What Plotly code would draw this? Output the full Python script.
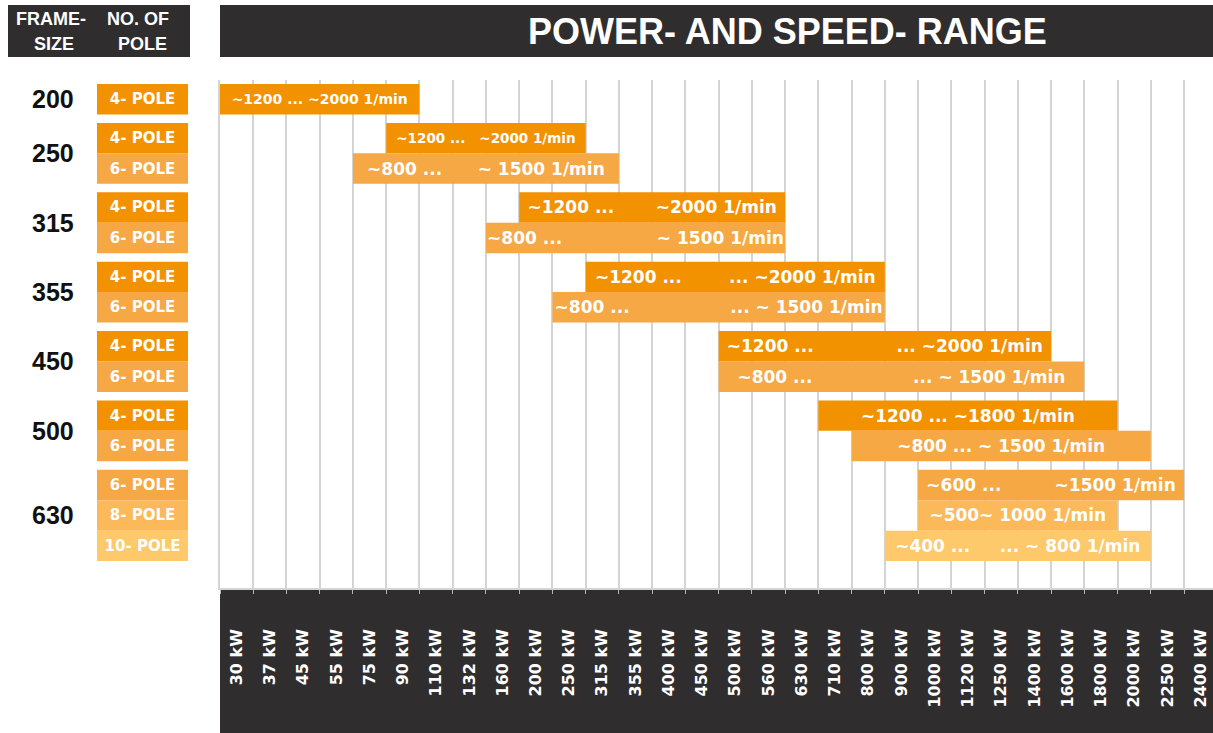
import plotly.graph_objects as go

# ---------------- data ----------------
power_kw = ["30", "37", "45", "55", "75", "90", "110", "132", "160", "200",
            "250", "315", "355", "400", "450", "500", "560", "630", "710", "800",
            "900", "1000", "1120", "1250", "1400", "1600", "1800", "2000", "2250", "2400"]
tick_labels = [p + " kW" for p in power_kw]

frame_sizes = ["200", "250", "250", "315", "315", "355", "355",
               "450", "450", "500", "500", "630", "630", "630"]
pole_numbers = ["4", "4", "6", "4", "6", "4", "6", "4", "6", "4", "6", "6", "8", "10"]
start_kw = ["30", "90", "75", "200", "160", "315", "250", "500", "500", "710", "800", "1000", "1000", "900"]
end_kw = ["90", "250", "315", "560", "560", "800", "800", "1400", "1600", "1800", "2000", "2250", "1800", "2000"]

NB = "\u00a0"
def gap(n):
    return NB * n

speed_text = [
    "~1200 ... ~2000 1/min",
    "~1200 ..." + gap(3) + "~2000 1/min",
    "~800 ..." + gap(6) + "~ 1500 1/min",
    "~1200 ..." + gap(7) + "~2000 1/min",
    "~800 ..." + gap(16) + "~ 1500 1/min",
    "~1200 ..." + gap(8) + "... ~2000 1/min",
    "~800 ..." + gap(17) + "... ~ 1500 1/min",
    "~1200 ..." + gap(14) + "... ~2000 1/min",
    "~800 ..." + gap(17) + "... ~ 1500 1/min",
    "~1200 ... ~1800 1/min",
    "~800 ... ~ 1500 1/min",
    "~600 ..." + gap(9) + "~1500 1/min",
    "~500~ 1000 1/min",
    "~400 ..." + gap(5) + "... ~ 800 1/min",
]

pole_colors = {"4": "#F39200", "6": "#F5A843", "8": "#FBB95A", "10": "#FDC96A"}

# ---------------- geometry helpers ----------------
W, H = 1213, 733
GROUP_GAP = 0.28

yc = []
pos = 0.0
prev = None
for f in frame_sizes:
    if prev is not None and f != prev:
        pos += GROUP_GAP
    yc.append(pos)
    pos += 1
    prev = f

bases = [power_kw.index(s) - 0.5 for s in start_kw]
lengths = [power_kw.index(e) - power_kw.index(s) + 1 for s, e in zip(start_kw, end_kw)]
colors = [pole_colors[p] for p in pole_numbers]
pole_labels = [p + "- POLE" for p in pole_numbers]
text_sizes = [14, 13.5] + [17] * (len(frame_sizes) - 2)

def py(px):
    return 1 - px / H

def pxx(px):
    return px / W

fig = go.Figure()

fig.add_trace(go.Bar(
    orientation="h", y=yc, x=lengths, base=bases, width=1,
    marker=dict(color=colors, line=dict(width=0)),
    text=speed_text, textposition="inside", insidetextanchor="middle",
    textangle=0, constraintext="none",
    textfont=dict(family="DejaVu Sans", size=text_sizes, color="white", weight="bold"),
    hoverinfo="skip", xaxis="x", yaxis="y",
))

fig.add_trace(go.Bar(
    orientation="h", y=yc, x=[1] * len(yc), base=0, width=1,
    marker=dict(color=colors, line=dict(width=0)),
    text=pole_labels, textposition="inside", insidetextanchor="middle",
    textangle=0, constraintext="none",
    textfont=dict(family="DejaVu Sans", size=15, color="white", weight="bold"),
    hoverinfo="skip", xaxis="x2", yaxis="y",
))

ymin = -0.5 - 0.13
ymax = yc[-1] + 0.5 + 0.885
col_w = (1184 - 220) / 29
x_end = -0.5 + (W - 220) / col_w

dark = "#2F2D2E"

shapes = [
    dict(type="rect", xref="paper", yref="paper", x0=pxx(220), x1=1, y0=0, y1=py(588),
         fillcolor=dark, line=dict(width=0), layer="below"),
    dict(type="rect", xref="paper", yref="paper", x0=pxx(220), x1=1, y0=py(57), y1=py(5),
         fillcolor=dark, line=dict(width=0), layer="below"),
    dict(type="rect", xref="paper", yref="paper", x0=pxx(8), x1=pxx(190), y0=py(57), y1=py(5),
         fillcolor=dark, line=dict(width=0), layer="below"),
]

hdr_font = dict(family="Liberation Sans", size=18, color="white", weight="bold")
annotations = [
    dict(xref="paper", yref="paper", x=pxx(787), y=py(31), text="POWER- AND SPEED- RANGE",
         showarrow=False, xanchor="center", yanchor="middle",
         font=dict(family="Liberation Sans", size=36, color="white", weight="bold")),
    dict(xref="paper", yref="paper", x=pxx(51), y=py(18.5), text="FRAME-",
         showarrow=False, xanchor="center", yanchor="middle", font=hdr_font),
    dict(xref="paper", yref="paper", x=pxx(54), y=py(43.5), text="SIZE",
         showarrow=False, xanchor="center", yanchor="middle", font=hdr_font),
    dict(xref="paper", yref="paper", x=pxx(138), y=py(18.5), text="NO. OF",
         showarrow=False, xanchor="center", yanchor="middle", font=hdr_font),
    dict(xref="paper", yref="paper", x=pxx(142), y=py(43.5), text="POLE",
         showarrow=False, xanchor="center", yanchor="middle", font=hdr_font),
]

# frame-size labels centred on their groups
groups = []
for f, y in zip(frame_sizes, yc):
    if groups and groups[-1][0] == f:
        groups[-1][1].append(y)
    else:
        groups.append((f, [y]))
for f, ys in groups:
    annotations.append(dict(
        xref="paper", yref="y", x=pxx(53), y=sum(ys) / len(ys), text=f,
        showarrow=False, xanchor="center", yanchor="middle",
        font=dict(family="Liberation Sans", size=25, color="#111111", weight="bold")))

fig.update_layout(
    width=W, height=H, margin=dict(l=0, r=0, t=0, b=0),
    paper_bgcolor="white", plot_bgcolor="rgba(0,0,0,0)",
    showlegend=False, barmode="overlay",
    shapes=shapes, annotations=annotations,
    xaxis=dict(
        domain=[pxx(220), 1], range=[-0.5, x_end], anchor="y",
        tickmode="array", tickvals=list(range(len(power_kw))), ticktext=tick_labels,
        tickangle=-90, ticks="", showgrid=False, zeroline=False,
        tickfont=dict(family="DejaVu Sans", size=16, color="white", weight="bold"),
        ticklabelstandoff=33,
        showline=True, linecolor="#d4d4d4", linewidth=1.5,
        minor=dict(tickmode="linear", tick0=0.5, dtick=1, showgrid=True,
                   gridcolor="#d4d4d4", gridwidth=1.5,
                   ticks="outside", ticklen=4, tickcolor="#b8b8b8"),
        fixedrange=True,
    ),
    xaxis2=dict(domain=[pxx(97), pxx(188)], range=[0, 1], anchor="y",
                visible=False, fixedrange=True),
    yaxis=dict(domain=[py(588), py(80)], range=[ymax, ymin],
               showticklabels=False, showgrid=False, zeroline=False, ticks="",
               showline=True, linecolor="#d4d4d4", linewidth=1.5, fixedrange=True),
)

fig.write_html(
    "out.html",
    config={"displayModeBar": False},
    post_script="document.body.style.margin='0px';document.body.style.overflow='hidden';",
)
